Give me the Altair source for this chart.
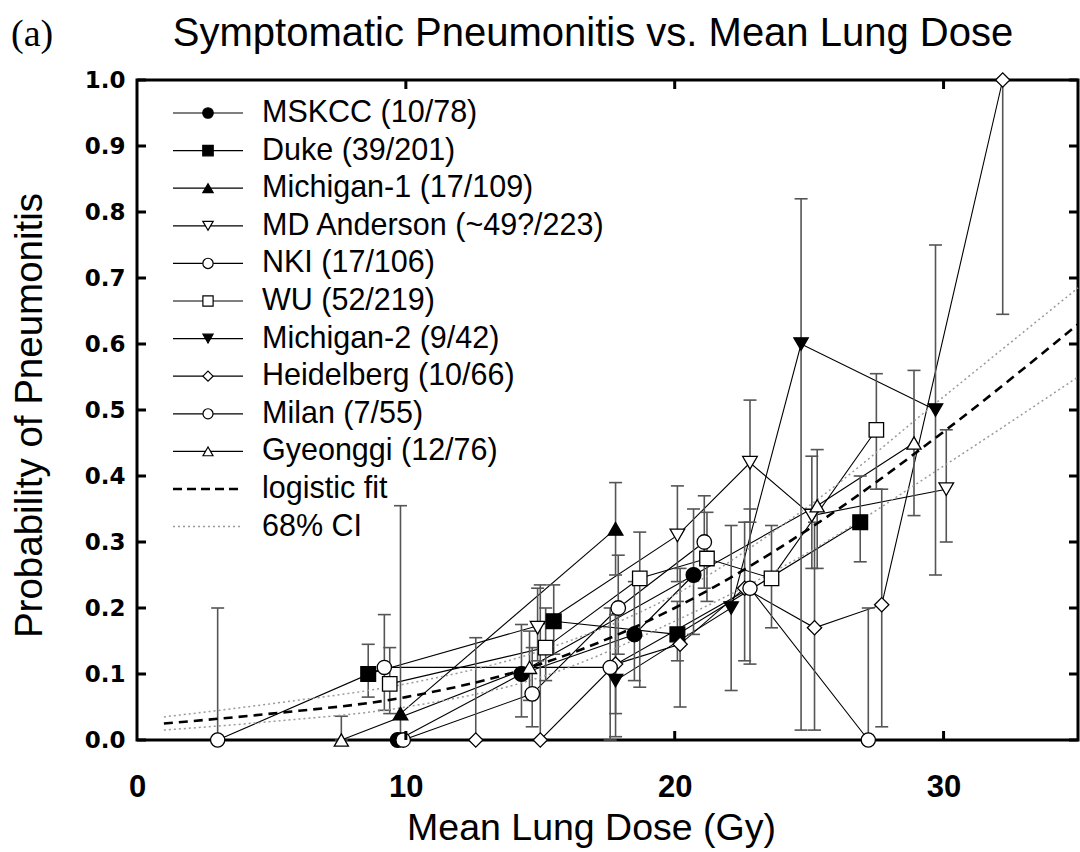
import altair as alt
import pandas as pd

# ---------------- data ----------------
series_names = ["MSKCC (10/78)", "Duke (39/201)", "Michigan-1 (17/109)",
                "MD Anderson (~49?/223)", "NKI (17/106)", "WU (52/219)",
                "Michigan-2 (9/42)", "Heidelberg (10/66)", "Milan (7/55)",
                "Gyeonggi (12/76)"]
series_shapes = ["circle", "square", "triangle-up", "triangle-down", "circle",
                 "square", "triangle-down", "diamond", "circle", "triangle-up"]
series_fills = ["black", "black", "black", "white", "white", "white",
                "black", "white", "white", "white"]

mskcc_x = [9.7, 14.3, 18.5, 20.7]
mskcc_y = [0.0, 0.10, 0.16, 0.25]
mskcc_lo = [0.0, 0.035, 0.09, 0.16]
mskcc_hi = [0.0, 0.175, 0.24, 0.35]

duke_x = [8.6, 15.5, 20.1, 26.9]
duke_y = [0.10, 0.18, 0.16, 0.33]
duke_lo = [0.065, 0.13, 0.12, 0.27]
duke_hi = [0.145, 0.235, 0.21, 0.40]

mich1_x = [9.8, 17.8]
mich1_y = [0.04, 0.32]
mich1_lo = [0.0, 0.25]
mich1_hi = [0.355, 0.39]

mda_x = [14.9, 20.1, 22.8, 25.1, 30.1]
mda_y = [0.17, 0.31, 0.42, 0.34, 0.38]
mda_lo = [0.12, 0.24, 0.33, 0.26, 0.30]
mda_hi = [0.23, 0.385, 0.515, 0.43, 0.47]

nki_x = [9.9, 14.7, 17.9, 21.1]
nki_y = [0.0, 0.07, 0.20, 0.30]
nki_lo = [0.0, 0.02, 0.13, 0.23]
nki_hi = [0.0, 0.14, 0.28, 0.37]

wu_x = [9.4, 15.2, 18.7, 21.2, 23.6, 27.5]
wu_y = [0.085, 0.14, 0.245, 0.275, 0.245, 0.47]
wu_lo = [0.04, 0.09, 0.08, 0.21, 0.17, 0.38]
wu_hi = [0.14, 0.20, 0.315, 0.345, 0.325, 0.555]

mich2_x = [17.8, 22.1, 24.7, 29.7]
mich2_y = [0.09, 0.20, 0.60, 0.50]
mich2_lo = [0.005, 0.075, 0.015, 0.25]
mich2_hi = [0.19, 0.325, 0.82, 0.75]

heid_x = [12.6, 15.0, 17.8, 20.2, 22.6, 25.2, 27.7, 32.2]
heid_y = [0.0, 0.0, 0.115, 0.145, 0.23, 0.17, 0.205, 1.0]
heid_lo = [0.0, 0.0, 0.04, 0.05, 0.12, 0.015, 0.02, 0.645]
heid_hi = [0.155, 0.235, 0.19, 0.26, 0.33, 0.33, 0.38, 1.0]

milan_x = [3.0, 9.2, 17.6, 22.8, 27.2]
milan_y = [0.0, 0.11, 0.11, 0.23, 0.0]
milan_lo = [0.0, 0.045, 0.0, 0.115, 0.0]
milan_hi = [0.20, 0.19, 0.20, 0.35, 0.20]

gyeo_x = [7.6, 14.6, 25.3, 28.9]
gyeo_y = [0.0, 0.11, 0.355, 0.45]
gyeo_lo = [0.0, 0.06, 0.26, 0.34]
gyeo_hi = [0.036, 0.165, 0.44, 0.56]

fit_x = [1, 5, 10, 15, 20, 25, 30, 35]
fit_y = [0.025, 0.04, 0.065, 0.115, 0.20, 0.32, 0.467, 0.63]
ci_upper = [0.035, 0.055, 0.085, 0.135, 0.22, 0.355, 0.52, 0.685]
ci_lower = [0.015, 0.028, 0.05, 0.095, 0.18, 0.285, 0.415, 0.55]

x_tick_values = [0, 10, 20, 30]
y_tick_values = [0.0, 0.1, 0.2, 0.3, 0.4, 0.5, 0.6, 0.7, 0.8, 0.9, 1.0]

title_text = "Symptomatic Pneumonitis vs. Mean Lung Dose"
panel_text = "(a)"
x_title = "Mean Lung Dose (Gy)"
y_title = "Probability of Pneumonitis"

# ---------------- tables ----------------
all_series = [
    (mskcc_x, mskcc_y, mskcc_lo, mskcc_hi),
    (duke_x, duke_y, duke_lo, duke_hi),
    (mich1_x, mich1_y, mich1_lo, mich1_hi),
    (mda_x, mda_y, mda_lo, mda_hi),
    (nki_x, nki_y, nki_lo, nki_hi),
    (wu_x, wu_y, wu_lo, wu_hi),
    (mich2_x, mich2_y, mich2_lo, mich2_hi),
    (heid_x, heid_y, heid_lo, heid_hi),
    (milan_x, milan_y, milan_lo, milan_hi),
    (gyeo_x, gyeo_y, gyeo_lo, gyeo_hi),
]
rows = []
for name, (xs_, ys_, los, his) in zip(series_names, all_series):
    for xv, yv, lv, hv in zip(xs_, ys_, los, his):
        rows.append({"series": name, "dose": xv, "p": yv, "lo": lv, "hi": hv})
df = pd.DataFrame(rows)

fit_df = pd.DataFrame({"dose": fit_x, "fit": fit_y, "up": ci_upper, "low": ci_lower})

W, H = 941, 660
ROW0, ROWSTEP = 33, 37.6
leg_df = pd.DataFrame({"series": series_names,
                       "ly": [ROW0 + ROWSTEP * i for i in range(len(series_names))]})
extra_leg = pd.DataFrame({"label": ["logistic fit", "68% CI"],
                          "ly": [ROW0 + ROWSTEP * 10, ROW0 + ROWSTEP * 11]})

SANS = "Liberation Sans, Arial, Helvetica, sans-serif"

# marker size per shape (style, not data)
shape_size = {"circle": 220, "square": 200, "triangle-up": 230,
              "triangle-down": 230, "diamond": 330}
plot_sizes = [shape_size[s] for s in series_shapes]
legend_sizes = [int(v * 0.5) for v in plot_sizes]

xs = alt.Scale(domain=[0, 35], nice=False, zero=False)
ys = alt.Scale(domain=[0, 1], nice=False, zero=False)
shape_scale = alt.Scale(domain=series_names, range=series_shapes)
fill_scale = alt.Scale(domain=series_names, range=series_fills)

X = alt.X("dose:Q", scale=xs, axis=alt.Axis(
    values=x_tick_values, ticks=False, tickSize=0, domain=False, grid=False,
    labelFlush=False,
    labelFont="Liberation Sans Narrow, Liberation Sans, Arial", labelFontSize=31,
    labelFontWeight="bold", labelColor="black", labelPadding=32,
    title=x_title, titleFont=SANS, titleFontSize=37.5, titleFontWeight="normal",
    titleColor="black", titleX=454, titleY=88, titleBaseline="middle",
    titleAlign="center"))
Y = alt.Y("p:Q", scale=ys, axis=alt.Axis(
    values=y_tick_values, format=".1f", ticks=False, tickSize=0, domain=False,
    grid=False, labelFlush=False,
    labelFont="DejaVu Sans", labelFontSize=23, labelFontWeight="bold",
    labelColor="black", labelPadding=12,
    title=y_title, titleFont=SANS, titleFontSize=38.5, titleFontWeight="normal",
    titleColor="black", titleAngle=270, titleX=-108, titleY=H / 2 + 5,
    titleBaseline="middle", titleAlign="center"))

ERR = "#555555"
err = alt.Chart(df).mark_rule(color=ERR, strokeWidth=1.6).encode(
    x=alt.X("dose:Q", scale=xs), y=alt.Y("lo:Q", scale=ys), y2="hi:Q")
cap_lo = alt.Chart(df).mark_tick(orient="horizontal", size=13, thickness=1.6,
                                 color=ERR, opacity=1).encode(
    x=alt.X("dose:Q", scale=xs), y=alt.Y("lo:Q", scale=ys))
cap_hi = alt.Chart(df).mark_tick(orient="horizontal", size=13, thickness=1.6,
                                 color=ERR, opacity=1).encode(
    x=alt.X("dose:Q", scale=xs), y=alt.Y("hi:Q", scale=ys))

lines = alt.Chart(df).mark_line(color="black", strokeWidth=1.1).encode(
    x=X, y=Y, detail="series:N", order="dose:Q")

ci_up = alt.Chart(fit_df).mark_line(color="#9a9a9a", strokeWidth=1.5,
                                    strokeDash=[2, 3], interpolate="monotone").encode(
    x=alt.X("dose:Q", scale=xs), y=alt.Y("up:Q", scale=ys))
ci_lo = alt.Chart(fit_df).mark_line(color="#9a9a9a", strokeWidth=1.5,
                                    strokeDash=[2, 3], interpolate="monotone").encode(
    x=alt.X("dose:Q", scale=xs), y=alt.Y("low:Q", scale=ys))
fit = alt.Chart(fit_df).mark_line(color="black", strokeWidth=2.6,
                                  strokeDash=[9, 6], interpolate="monotone").encode(
    x=alt.X("dose:Q", scale=xs), y=alt.Y("fit:Q", scale=ys))

points = alt.Chart(df).mark_point(filled=True, stroke="black", strokeWidth=1.3,
                                  opacity=1).encode(
    x=alt.X("dose:Q", scale=xs), y=alt.Y("p:Q", scale=ys),
    shape=alt.Shape("series:N", scale=shape_scale, legend=None),
    fill=alt.Fill("series:N", scale=fill_scale, legend=None),
    size=alt.Size("series:N", scale=alt.Scale(domain=series_names, range=plot_sizes),
                  legend=None))

# inner ticks on all four sides
yt_df = pd.DataFrame({"v": y_tick_values})
xt_df = pd.DataFrame({"v": x_tick_values[1:]})
tick_left = alt.Chart(yt_df).mark_rule(color="black", strokeWidth=3).encode(
    x=alt.value(0), x2=alt.value(9), y=alt.Y("v:Q", scale=ys))
tick_right = alt.Chart(yt_df).mark_rule(color="black", strokeWidth=3).encode(
    x=alt.value(W - 9), x2=alt.value(W), y=alt.Y("v:Q", scale=ys))
tick_bottom = alt.Chart(xt_df).mark_rule(color="black", strokeWidth=3).encode(
    x=alt.X("v:Q", scale=xs), y=alt.value(H), y2=alt.value(H - 9))
tick_top = alt.Chart(xt_df).mark_rule(color="black", strokeWidth=3).encode(
    x=alt.X("v:Q", scale=xs), y=alt.value(0), y2=alt.value(9))

# legend drawn inside the plot (legend markers use their own size scale field)
leg_df["lseries"] = leg_df["series"]
leg_line = alt.Chart(leg_df).mark_rule(color="black", strokeWidth=1.2).encode(
    x=alt.value(36), x2=alt.value(106), y=alt.Y("ly:Q", scale=None))
leg_pt = alt.Chart(leg_df).mark_point(filled=True, stroke="black", strokeWidth=1.2,
                                      opacity=1).encode(
    x=alt.value(71), y=alt.Y("ly:Q", scale=None),
    shape=alt.Shape("series:N", scale=shape_scale, legend=None),
    fill=alt.Fill("series:N", scale=fill_scale, legend=None),
    size=alt.Size("lseries:N", scale=alt.Scale(domain=series_names, range=legend_sizes),
                  legend=None))
leg_txt = alt.Chart(leg_df).mark_text(align="left", baseline="middle", font=SANS,
                                      fontSize=30.5, color="black").encode(
    x=alt.value(125), y=alt.Y("ly:Q", scale=None), text="series:N")
leg_fit = alt.Chart(extra_leg.iloc[[0]]).mark_rule(color="black", strokeWidth=2.6,
                                                   strokeDash=[9, 5]).encode(
    x=alt.value(36), x2=alt.value(106), y=alt.Y("ly:Q", scale=None))
leg_ci = alt.Chart(extra_leg.iloc[[1]]).mark_rule(color="#9a9a9a", strokeWidth=1.5,
                                                  strokeDash=[2, 3]).encode(
    x=alt.value(36), x2=alt.value(106), y=alt.Y("ly:Q", scale=None))
leg_txt2 = alt.Chart(extra_leg).mark_text(align="left", baseline="middle", font=SANS,
                                          fontSize=30.5, color="black").encode(
    x=alt.value(125), y=alt.Y("ly:Q", scale=None), text="label:N")

title_mark = alt.Chart(pd.DataFrame({"t": [title_text]})).mark_text(
    align="center", baseline="middle", font=SANS, fontSize=40, color="black").encode(
    x=alt.value(456), y=alt.value(-46), text="t:N")
panel_mark = alt.Chart(pd.DataFrame({"t": [panel_text]})).mark_text(
    align="left", baseline="middle", font="Liberation Serif, Times New Roman, serif",
    fontSize=38, color="black").encode(
    x=alt.value(-126), y=alt.value(-45), text="t:N")

chart = alt.layer(
    lines, err, cap_lo, cap_hi, ci_up, ci_lo, fit, points,
    tick_left, tick_right, tick_bottom, tick_top,
    leg_line, leg_pt, leg_txt, leg_fit, leg_ci, leg_txt2,
    title_mark, panel_mark,
).resolve_scale(shape="shared", fill="shared", size="independent").properties(
    width=W, height=H,
    autosize=alt.AutoSizeParams(type="none"),
    padding={"left": 137, "top": 80, "right": 2, "bottom": 112},
    background="white",
).configure_view(stroke="black", strokeWidth=3)

chart.save("out.html", embed_options={"renderer": "svg", "actions": False})
